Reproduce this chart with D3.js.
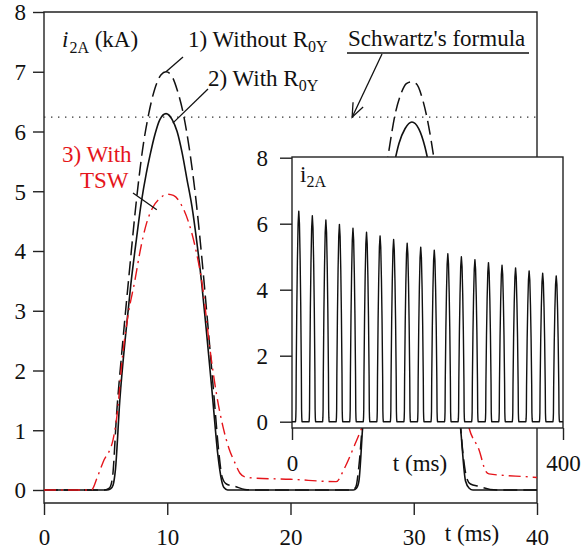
<!DOCTYPE html>
<html>
<head>
<meta charset="utf-8">
<script src="https://cdn.jsdelivr.net/npm/d3@7"></script>
<style>
  body { margin: 0; background: #fff; }
</style>
</head>
<body>
<svg id="chart" width="583" height="552"></svg>
<script>
// main plot, t in ms, i2A in kA
const xTicks = [0, 10, 20, 30, 40];
const yTicks = [0, 1, 2, 3, 4, 5, 6, 7, 8];
const schwartzLevel = 6.24;

// 1) without R0Y (dashed)
const withoutR0Y = [[0,0],[4.9,0],[5.3,0.03],[5.55,0.2],[5.9,1.3],[6.4,2.5],[6.9,3.6],[7.5,4.85],[8.0,5.7],[8.5,6.3],[9.0,6.72],[9.5,6.95],[9.9,7.0],[10.3,6.95],[10.8,6.7],[11.3,6.3],[11.8,5.7],[12.36,4.8],[12.8,3.9],[13.3,2.75],[13.8,1.55],[14.2,0.6],[14.45,0.22],[14.8,0.1],[15.5,0.06],[16.3,0.01],[17,0],[25.0,0],[25.3,0.05],[25.55,0.4],[25.9,1.3],[26.4,2.6],[26.9,3.8],[27.4,4.85],[28.0,5.7],[28.5,6.3],[29.0,6.65],[29.4,6.8],[29.8,6.83],[30.2,6.8],[30.7,6.55],[31.2,6.1],[31.6,5.6],[32.1,4.8],[32.6,3.9],[33.1,2.8],[33.6,1.6],[34.0,0.6],[34.3,0.2],[34.6,0.1],[35.3,0.06],[36.2,0.01],[37,0],[40,0]];

// 2) with R0Y (solid)
const withR0Y = [[0,0],[5.1,0],[5.4,0.02],[5.6,0.08],[5.8,0.35],[6.15,1.5],[6.6,2.55],[7.05,3.45],[7.5,4.2],[7.9,4.82],[8.3,5.3],[8.6,5.6],[9.0,5.95],[9.4,6.2],[9.9,6.3],[10.4,6.2],[10.8,6.0],[11.2,5.65],[11.6,5.2],[12.0,4.75],[12.4,4.15],[12.8,3.45],[13.25,2.5],[13.7,1.5],[14.1,0.6],[14.4,0.17],[14.6,0.04],[14.9,0],[25.1,0],[25.35,0.03],[25.55,0.15],[25.85,1.04],[26.3,2.2],[26.8,3.3],[27.3,4.15],[27.8,4.85],[28.3,5.35],[28.8,5.8],[29.3,6.05],[29.85,6.16],[30.4,6.05],[30.9,5.75],[31.4,5.25],[31.9,4.6],[32.4,3.8],[32.9,2.85],[33.4,1.85],[33.8,1.03],[34.2,0.15],[34.5,0.03],[34.8,0],[40,0]];

// 3) with TSW (red dash-dot)
const withTSW = [[0,0],[3.85,0],[4.3,0.2],[4.8,0.47],[5.6,0.84],[6.0,1.39],[6.3,2.1],[6.8,2.9],[7.37,3.5],[7.8,4.0],[8.3,4.45],[8.8,4.72],[9.4,4.88],[10.0,4.95],[10.5,4.93],[11.15,4.77],[11.7,4.5],[12.2,4.13],[12.9,3.35],[13.44,2.4],[14.0,1.6],[14.52,1.06],[15.0,0.7],[15.5,0.45],[15.9,0.28],[16.3,0.22],[17,0.2],[20,0.18],[23.7,0.14],[24.37,0.36],[25.2,0.75],[25.6,0.95],[26.0,1.2],[26.5,2.1],[27.5,3.6],[28.5,4.5],[29.5,4.9],[30.0,4.93],[30.7,4.8],[31.5,4.4],[32.5,3.5],[33.5,2.2],[34.5,1.03],[35.3,0.67],[35.85,0.31],[36.1,0.27],[39.35,0.22],[40,0.21]];

// inset: 0..400 ms, one pulse every 20 ms
const insetXTicks = [0, 400];
const insetYTicks = [0, 2, 4, 6, 8];
const insetPeaks = [6.38,6.24,6.11,5.98,5.86,5.74,5.63,5.52,5.41,5.29,5.20,5.09,5.00,4.91,4.82,4.74,4.66,4.57,4.50,4.42];
const insetFirstPeak = 10;
const insetPeriod = 20;
const pulseShape = [[-4.8,0],[-4.4,0.02],[-4.1,0.06],[-3.8,0.24],[-2.9,0.55],[-2.0,0.77],[-1.0,0.94],[0,1],[1.0,0.94],[2.0,0.77],[2.9,0.55],[3.8,0.24],[4.1,0.06],[4.4,0.02],[4.8,0]];

const FONT = "'Liberation Serif', 'Times New Roman', 'DejaVu Serif', serif";
const FS = 23;
const RED = "#e5151b";

const svg = d3.select("#chart").attr("font-family", FONT);

const x = d3.scaleLinear().domain([0, 40]).range([44, 537]);
const y = d3.scaleLinear().domain([0, 8]).range([490, 12]);
const yBottom = 503;

const line = d3.line().x(d => x(d[0])).y(d => y(d[1])).curve(d3.curveMonotoneX);

function label(tx, ty, str, color) {
  return svg.append("text").attr("x", tx).attr("y", ty)
    .attr("font-family", FONT).attr("font-size", FS)
    .attr("fill", color || "#111").text(str);
}

function styleAxis(g, textY) {
  g.select(".domain").remove();
  g.selectAll("line").attr("stroke", "#222").attr("stroke-width", 1.4);
  const t = g.selectAll("text").attr("font-size", FS).attr("font-family", FONT).attr("fill", "#111");
  if (textY != null) t.attr("dy", null).attr("y", textY);
  else t.attr("dy", "0.34em");
}

// frame
svg.append("path")
  .attr("d", `M${x(0)},${y(8)}H${x(40)}V${yBottom}H${x(0)}Z`)
  .attr("fill", "none").attr("stroke", "#222").attr("stroke-width", 1.4);

svg.append("g").attr("transform", `translate(${x(0)},0)`)
  .call(d3.axisLeft(y).tickValues(yTicks).tickSize(11).tickPadding(7).tickSizeOuter(0))
  .call(g => styleAxis(g));

svg.append("g").attr("transform", `translate(0,${yBottom})`)
  .call(d3.axisBottom(x).tickValues(xTicks).tickSize(12).tickSizeOuter(0))
  .call(g => styleAxis(g, 42));

label(472, 541, "t (ms)").attr("text-anchor", "middle");

// Schwartz level
svg.append("line")
  .attr("x1", x(0)).attr("x2", x(40))
  .attr("y1", y(schwartzLevel)).attr("y2", y(schwartzLevel))
  .attr("stroke", "#333").attr("stroke-width", 1.2).attr("stroke-dasharray", "1.4,5.6");

// curves
svg.append("path").datum(withoutR0Y).attr("d", line)
  .attr("fill", "none").attr("stroke", "#111").attr("stroke-width", 1.5)
  .attr("stroke-dasharray", "14,6");
svg.append("path").datum(withR0Y).attr("d", line)
  .attr("fill", "none").attr("stroke", "#111").attr("stroke-width", 1.6);
svg.append("path").datum(withTSW).attr("d", line)
  .attr("fill", "none").attr("stroke", RED).attr("stroke-width", 1.4)
  .attr("stroke-dasharray", "12,5,2,5");

// y label
const yl = label(62, 47, "");
yl.append("tspan").attr("font-style", "italic").text("i");
yl.append("tspan").attr("font-size", 16).attr("dy", 6).attr("dx", 1).text("2A");
yl.append("tspan").attr("dy", -6).text(" (kA)");

// annotations
function subLabel(tx, ty, main, sub) {
  const t = label(tx, ty, "");
  t.append("tspan").text(main);
  t.append("tspan").attr("font-size", 16).attr("dy", 5).text(sub);
  return t;
}
subLabel(188, 47, "1) Without R", "0Y");
subLabel(208, 86, "2) With R", "0Y");

const ann = svg.append("g").attr("stroke", "#111").attr("stroke-width", 1.3).attr("fill", "none");
ann.append("line").attr("x1", 183).attr("y1", 57).attr("x2", x(9.9)).attr("y2", y(7.0));
ann.append("line").attr("x1", 208).attr("y1", 89).attr("x2", x(10.45)).attr("y2", y(6.14));
ann.append("line").attr("x1", 133).attr("y1", 193).attr("x2", x(9.15)).attr("y2", y(4.69));

label(62, 162, "3) With", RED);
label(80, 188, "TSW", RED);

label(348, 46, "Schwartz's formula");
ann.append("line").attr("x1", 347).attr("x2", 529).attr("y1", 53).attr("y2", 53);
{
  const tip = [x(25.0), y(schwartzLevel)];
  const start = [382, 54];
  ann.append("line").attr("x1", start[0]).attr("y1", start[1]).attr("x2", tip[0]).attr("y2", tip[1]);
  const a = Math.atan2(start[1] - tip[1], start[0] - tip[0]);
  const len = 15, spread = 0.38;
  ann.append("path").attr("d",
    `M${tip[0] + len * Math.cos(a - spread)},${tip[1] + len * Math.sin(a - spread)}` +
    `L${tip[0]},${tip[1]}` +
    `L${tip[0] + len * Math.cos(a + spread)},${tip[1] + len * Math.sin(a + spread)}`);
}

// inset
const ix = d3.scaleLinear().domain([0, 400]).range([292, 563]);
const iy = d3.scaleLinear().domain([0, 8]).range([421.7, 157.7]);
const iTop = 157, iBottom = 428;

svg.append("rect").attr("x", ix(0)).attr("y", iTop)
  .attr("width", ix(400) - ix(0)).attr("height", iBottom - iTop)
  .attr("fill", "#fff").attr("stroke", "#222").attr("stroke-width", 1.4);

svg.append("g").attr("transform", `translate(${ix(0)},0)`)
  .call(d3.axisLeft(iy).tickValues(insetYTicks).tickSize(12).tickPadding(12).tickSizeOuter(0))
  .call(g => styleAxis(g));

svg.append("g").attr("transform", `translate(0,${iBottom})`)
  .call(d3.axisBottom(ix).tickValues(insetXTicks).tickSize(12).tickSizeOuter(0))
  .call(g => styleAxis(g, 43));

label(420, 471, "t (ms)").attr("text-anchor", "middle");

const il = label(300, 182, "");
il.append("tspan").text("i");
il.append("tspan").attr("font-size", 16).attr("dy", 5).text("2A");

const insetSeries = [[0, 0]];
insetPeaks.forEach((p, k) => {
  const tp = insetFirstPeak + k * insetPeriod;
  pulseShape.forEach(([dt, f]) => insetSeries.push([tp + dt, f * p]));
});
insetSeries.push([400, 0]);

const iline = d3.line().x(d => ix(d[0])).y(d => iy(d[1]));
svg.append("path").datum(insetSeries).attr("d", iline)
  .attr("fill", "none").attr("stroke", "#111").attr("stroke-width", 1.4)
  .attr("stroke-linejoin", "round");
</script>
</body>
</html>
